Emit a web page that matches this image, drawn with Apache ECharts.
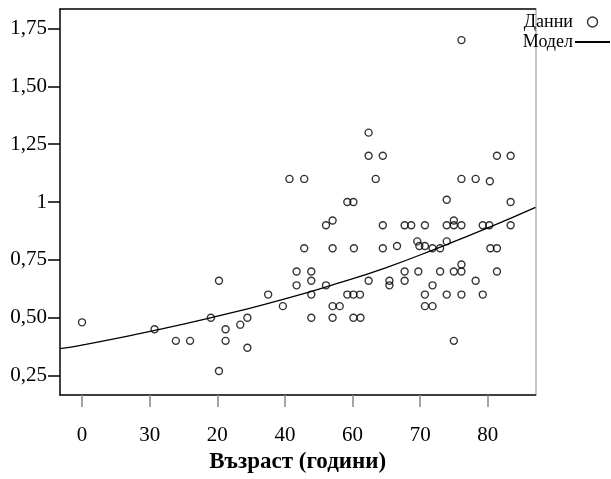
<!DOCTYPE html>
<html>
<head>
<meta charset="utf-8">
<script src="https://cdn.jsdelivr.net/npm/echarts@6/dist/echarts.min.js"></script>
<style>
  html, body { margin: 0; padding: 0; background: #fff; }
  #chart { width: 611px; height: 479px; }
</style>
</head>
<body>
<div id="chart"></div>
<script>
// Observed data: age (years) and measured value
const ages = [
  0, 14.3, 18.5, 21.3, 25.4, 27.0, 27.0, 28.3, 28.3, 31.2,
  32.6, 32.6, 36.7, 39.6, 40.9, 43.8, 42.3, 42.3, 43.8, 45.2,
  45.2, 45.2, 45.2, 48.1, 49.4, 48.1, 49.4, 49.4, 50.8, 49.4,
  52.3, 53.5, 53.6, 52.3, 53.5, 54.8, 53.5, 54.9, 56.5, 56.5,
  59.3, 57.9, 59.3, 59.3, 56.5, 60.6, 60.6, 62.1, 63.6, 64.9,
  67.6, 63.6, 63.6, 66.1, 66.5, 67.6, 66.3, 67.6, 67.6, 69.1,
  69.1, 70.6, 69.1, 70.6, 71.9, 71.9, 73.3, 73.3, 74.8, 71.9,
  71.9, 73.3, 74.8, 74.8, 74.8, 73.3, 74.8, 74.8, 77.6, 80.4,
  77.6, 79.0, 80.3, 79.0, 80.5, 81.8, 81.8, 81.8, 84.5, 84.5,
  84.5
];
const values = [
  0.48, 0.45, 0.40, 0.40, 0.50, 0.66, 0.27, 0.45, 0.40, 0.47,
  0.50, 0.37, 0.60, 0.55, 1.10, 1.10, 0.70, 0.64, 0.80, 0.70,
  0.66, 0.60, 0.50, 0.90, 0.92, 0.64, 0.80, 0.55, 0.55, 0.50,
  1.00, 1.00, 0.80, 0.60, 0.60, 0.60, 0.50, 0.50, 1.30, 1.20,
  1.20, 1.10, 0.90, 0.80, 0.66, 0.66, 0.64, 0.81, 0.90, 0.90,
  0.90, 0.70, 0.66, 0.83, 0.81, 0.81, 0.70, 0.60, 0.55, 0.55,
  0.80, 0.80, 0.64, 0.70, 1.01, 0.90, 0.92, 0.90, 0.90, 0.83,
  0.60, 0.70, 0.70, 0.73, 0.60, 0.40, 1.70, 1.10, 1.10, 1.09,
  0.66, 0.90, 0.90, 0.60, 0.80, 0.80, 0.70, 1.20, 1.20, 1.00,
  0.90
];

// Fitted model curve
const modelAges = [-4.34, 0, 10, 20, 30, 40, 50, 60, 70, 80, 89.4];
const modelValues = [0.366, 0.382, 0.425, 0.472, 0.524, 0.581, 0.646, 0.717, 0.800, 0.888, 0.977];

// Axis ticks and their labels
const xTickPositions = [0, 13.33, 26.67, 40, 53.33, 66.67, 80];
const xTickLabels = ['0', '30', '20', '40', '60', '70', '80'];
const yTickPositions = [0.25, 0.5, 0.75, 1, 1.25, 1.5, 1.75];
const yTickLabels = ['0,25', '0,50', '0,75', '1', '1,25', '1,50', '1,75'];

const serif = '"Liberation Serif", "Times New Roman", serif';

function labelFor(positions, labels, v) {
  for (let i = 0; i < positions.length; i++) {
    if (Math.abs(positions[i] - v) < 1e-6) return labels[i];
  }
  return '';
}

const chart = echarts.init(document.getElementById('chart'), null, { renderer: 'canvas' });

chart.setOption({
  animation: false,
  backgroundColor: '#fff',
  grid: { left: 60, right: 75.5, top: 9, bottom: 75, containLabel: false },
  legend: {
    orient: 'vertical',
    right: 0,
    top: 13,
    align: 'right',
    itemWidth: 35,
    itemHeight: 10,
    itemGap: 2,
    padding: 0,
    textStyle: { fontFamily: serif, fontSize: 18, color: '#000', padding: [0, -3, 0, 0] },
    data: [
      { name: 'Данни', icon: 'circle', itemStyle: { color: 'rgba(0,0,0,0)', borderColor: '#000', borderWidth: 1.4 } },
      { name: 'Модел', itemStyle: { color: 'rgba(0,0,0,0)', borderColor: 'rgba(0,0,0,0)', borderWidth: 0, opacity: 0 } }
    ]
  },
  xAxis: [
    {
      type: 'value',
      position: 'bottom',
      min: -4.34,
      max: 89.4,
      name: 'Възраст (години)',
      nameLocation: 'middle',
      nameGap: 54,
      nameTextStyle: { fontFamily: serif, fontSize: 23, fontWeight: 'bold', color: '#000' },
      splitLine: { show: false },
      axisLine: { onZero: false, lineStyle: { color: '#000', width: 1.5 } },
      axisTick: {
        show: true,
        length: 12,
        customValues: xTickPositions,
        lineStyle: { color: '#888', width: 1.5 }
      },
      axisLabel: {
        customValues: xTickPositions,
        margin: 30,
        fontFamily: serif,
        fontSize: 21,
        color: '#000',
        formatter: v => labelFor(xTickPositions, xTickLabels, v)
      }
    },
    {
      type: 'value',
      position: 'top',
      min: -4.34,
      max: 89.4,
      splitLine: { show: false },
      axisLine: { onZero: false, lineStyle: { color: '#000', width: 1.5 } },
      axisTick: { show: false },
      axisLabel: { show: false }
    }
  ],
  yAxis: [
    {
      type: 'value',
      position: 'left',
      min: 0.1655,
      max: 1.8345,
      splitLine: { show: false },
      axisLine: { show: true, onZero: false, lineStyle: { color: '#000', width: 1.5 } },
      axisTick: {
        show: true,
        length: 12,
        customValues: yTickPositions,
        lineStyle: { color: '#000', width: 1.5 }
      },
      axisLabel: {
        customValues: yTickPositions,
        margin: 13,
        fontFamily: serif,
        fontSize: 21,
        color: '#000',
        formatter: v => labelFor(yTickPositions, yTickLabels, v)
      }
    },
    {
      type: 'value',
      position: 'right',
      min: 0.1655,
      max: 1.8345,
      splitLine: { show: false },
      axisLine: { show: true, onZero: false, lineStyle: { color: '#c8c8c8', width: 2 } },
      axisTick: { show: false },
      axisLabel: { show: false }
    }
  ],
  series: [
    {
      name: 'Данни',
      type: 'scatter',
      symbol: 'circle',
      symbolSize: 7,
      itemStyle: { color: 'rgba(0,0,0,0)', borderColor: '#000', borderWidth: 1.4 },
      data: ages.map((a, i) => [a, values[i]]),
      z: 3
    },
    {
      name: 'Модел',
      type: 'line',
      smooth: true,
      showSymbol: false,
      symbol: 'none',
      lineStyle: { color: '#000', width: 1.3 },
      itemStyle: { color: '#000' },
      data: modelAges.map((a, i) => [a, modelValues[i]]),
      z: 2
    }
  ]
});
</script>
</body>
</html>
